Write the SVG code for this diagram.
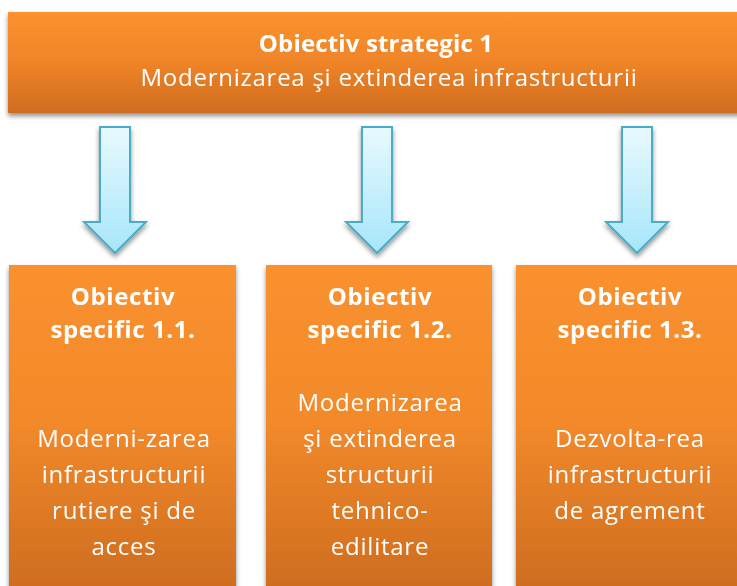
<svg xmlns="http://www.w3.org/2000/svg" width="737" height="586" viewBox="0 0 737 586">
<defs>
<linearGradient id="gTop" x1="0" y1="0" x2="0" y2="1">
<stop offset="0" stop-color="#FC922E"/><stop offset="0.5" stop-color="#EF8428"/><stop offset="1" stop-color="#CF6C1F"/>
</linearGradient>
<linearGradient id="gBox" x1="0" y1="0" x2="0" y2="1">
<stop offset="0" stop-color="#FA912E"/><stop offset="0.45" stop-color="#F38A2B"/><stop offset="1" stop-color="#CB6A1E"/>
</linearGradient>
<linearGradient id="gArrow" x1="0" y1="0" x2="0" y2="1">
<stop offset="0" stop-color="#E8F9FE"/><stop offset="1" stop-color="#A6E6FA"/>
</linearGradient>
<filter id="sh" x="-10%" y="-10%" width="120%" height="130%">
<feGaussianBlur in="SourceAlpha" stdDeviation="2.5"/>
<feOffset dx="0" dy="3" result="b"/>
<feComponentTransfer><feFuncA type="linear" slope="0.45"/></feComponentTransfer>
<feMerge><feMergeNode/><feMergeNode in="SourceGraphic"/></feMerge>
</filter>
<path id="arrow" d="M-15,0 H15 V95 H31 L0,126 L-31,95 H-15 Z"/>
</defs>
<style>
.t{font-family:"Open Sans","Liberation Sans",sans-serif;fill:#fff;text-anchor:middle}
.b{font-weight:bold;font-size:24px;letter-spacing:0.15px}
.n{font-size:24px;letter-spacing:0.75px}
.bx{font-weight:bold;font-size:24px;letter-spacing:0.6px}
.arr{fill:url(#gArrow);stroke:#4BACC6;stroke-width:2}
</style>
<g id="connectors" filter="url(#sh)">
<use href="#arrow" class="arr" transform="translate(115,127)"/>
<use href="#arrow" class="arr" transform="translate(377,127)"/>
<use href="#arrow" class="arr" transform="translate(637,127)"/>
</g>
<g id="top">
<rect x="8" y="12" width="740" height="101" fill="url(#gTop)" filter="url(#sh)"/>
<text class="t b" x="376" y="52">Obiectiv strategic 1</text>
<text class="t n" x="389" y="86">Modernizarea şi extinderea infrastructurii</text>
</g>
<g id="os11">
<rect x="9" y="265" width="227" height="340" fill="url(#gBox)" filter="url(#sh)"/>
<text class="t bx" x="123" y="305">Obiectiv</text>
<text class="t bx" x="123" y="338">specific 1.1.</text>
<text class="t n" x="124" y="447">Moderni-zarea</text>
<text class="t n" x="124" y="483">infrastructurii</text>
<text class="t n" x="124" y="519">rutiere şi de</text>
<text class="t n" x="124" y="555">acces</text>
</g>
<g id="os12">
<rect x="266" y="265" width="226" height="340" fill="url(#gBox)" filter="url(#sh)"/>
<text class="t bx" x="380" y="305">Obiectiv</text>
<text class="t bx" x="380" y="338">specific 1.2.</text>
<text class="t n" x="380" y="411">Modernizarea</text>
<text class="t n" x="380" y="447">şi extinderea</text>
<text class="t n" x="380" y="483">structurii</text>
<text class="t n" x="380" y="519">tehnico-</text>
<text class="t n" x="380" y="555">edilitare</text>
</g>
<g id="os13">
<rect x="516" y="265" width="240" height="340" fill="url(#gBox)" filter="url(#sh)"/>
<text class="t bx" x="630" y="305">Obiectiv</text>
<text class="t bx" x="630" y="338">specific 1.3.</text>
<text class="t n" x="630" y="447">Dezvolta-rea</text>
<text class="t n" x="630" y="483">infrastructurii</text>
<text class="t n" x="630" y="519">de agrement</text>
</g>
</svg>
